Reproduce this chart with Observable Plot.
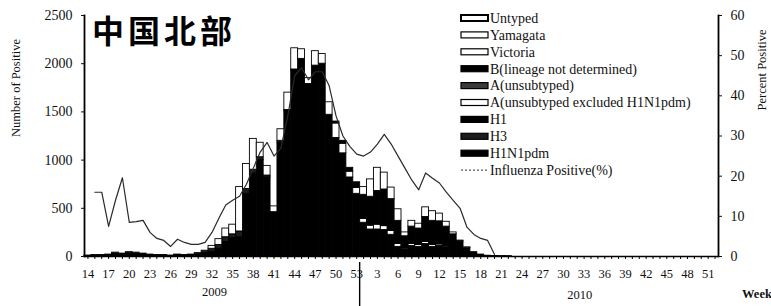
<!DOCTYPE html>
<html><head><meta charset="utf-8">
<script src="https://cdn.jsdelivr.net/npm/d3@7"></script>
<script src="https://cdn.jsdelivr.net/npm/@observablehq/plot@0.6"></script>
<style>
body{margin:0;background:#fff}
#chart{width:771px;height:306px;overflow:hidden}
</style>
</head><body><div id="chart"></div>
<script>
// ---- categories ----
const weeks2009 = d3.range(14, 54);
const weeks2010 = d3.range(1, 53);
const weekKeys = [...weeks2009.map(w => "2009-" + w), ...weeks2010.map(w => "2010-" + w)];
const labelWeeks2009 = [14,17,20,23,26,29,32,35,38,41,44,47,50,53];
const labelWeeks2010 = [3,6,9,12,15,18,21,24,27,30,33,36,39,42,45,48,51];
const leftTicks = [0, 500, 1000, 1500, 2000, 2500];
const rightTicks = [0, 10, 20, 30, 40, 50, 60];

// ---- series values (2009 w14..w53, then 2010 w1..w52) ----
const h1n1pdm = [5,7,7,10,25,20,30,25,20,12,10,10,5,10,10,10,20,35,50,80,150,190,200,650,860,1000,820,450,1180,1510,1930,2050,1790,1980,2000,1470,1230,1070,820,650,
  350,280,280,275,225,100,80,110,100,130,100,110,100,75,55,30,15,8,3,2,1,1,0,0,0,0,0,0,0,0,0,0,0,0,0,0,0,0,0,0,0,0,0,0,0,0,0,0,0,0,0,0];
const h3 = [5,8,8,10,15,10,15,15,10,8,5,5,5,10,5,10,15,25,30,40,50,40,60,50,40,30,20,10,20,10,10,0,0,0,0,0,0,0,0,0,
  0,0,0,0,0,0,0,0,0,0,0,0,0,0,0,0,0,0,0,0,0,0,0,0,0,0,0,0,0,0,0,0,0,0,0,0,0,0,0,0,0,0,0,0,0,0,0,0,0,0,0,0];
const aExcluded = [0,0,0,0,0,0,0,0,0,0,0,0,0,0,0,0,0,0,30,60,90,100,460,260,320,150,100,60,120,180,220,100,60,150,100,130,150,100,60,60,
  40,40,50,40,40,30,10,20,20,20,20,15,10,5,0,0,0,0,0,0,0,0,0,0,0,0,0,0,0,0,0,0,0,0,0,0,0,0,0,0,0,0,0,0,0,0,0,0,0,0,0,0];
const bUndetermined = [0,0,0,0,0,0,0,0,0,0,0,0,0,0,0,0,0,0,0,0,0,0,0,0,0,0,0,0,0,0,0,0,0,0,0,0,20,30,40,60,
  250,300,350,380,330,240,120,180,170,260,250,240,200,150,100,60,30,12,5,3,2,1,0,0,0,0,0,0,0,0,0,0,0,0,0,0,0,0,0,0,0,0,0,0,0,0,0,0,0,0,0,0];
const victoria = [0,0,0,0,0,0,0,0,0,0,0,0,0,0,0,0,0,0,0,0,0,0,0,0,0,0,0,0,0,0,0,0,0,0,0,0,0,0,0,0,
  80,180,240,175,120,120,40,60,50,100,100,80,50,20,10,5,0,0,0,0,0,0,0,0,0,0,0,0,0,0,0,0,0,0,0,0,0,0,0,0,0,0,0,0,0,0,0,0,0,0,0,0];
const percentPositive = [null,16,16,7.5,14,19.6,8.5,8.7,9,6,4.5,4,2.5,4.3,3.5,3,3,3.5,6,9.5,12.8,14,15,18,22,26,28.4,25,27,35,45,47,44,46,46,42.5,35,30,27.4,25.5,
  25,26,28,30.4,28,25,22,19,16.6,20.8,19.5,18.3,16,14,12,7.3,5.5,4.5,4,0.5,null,null,null,null,null,null,null,null,null,null,null,null,null,null,null,null,null,null,null,null,null,null,null,null,null,null,null,null,null,null,null,null];

const stackSeries = ["H1N1pdm", "H3", "A(unsubtyped excluded H1N1pdm)", "B(lineage not determined)", "Victoria"];
const stackValues = [h1n1pdm, h3, aExcluded, bUndetermined, victoria];
const stackFills = ["#000000", "#1c1c1c", "#ffffff", "#000000", "#ffffff"];

const legendNames = ["Untyped","Yamagata","Victoria","B(lineage not determined)","A(unsubtyped)","A(unsubtyped excluded H1N1pdm)","H1","H3","H1N1pdm","Influenza Positive(%)"];
const legendFills = ["#ffffff","#ffffff","#ffffff","#000000","#3a3a3a","#ffffff","#000000","#1c1c1c","#000000",null];

const rows = [];
stackSeries.forEach((s, j) => weekKeys.forEach((k, i) => rows.push({key: k, series: s, value: stackValues[j][i]})));
const pctRows = weekKeys.map((k, i) => ({key: k, pct: percentPositive[i]}));
const toLeft = p => p * 2500 / 60;

const serif = "'Liberation Serif', 'DejaVu Serif', serif";
const plot = Plot.plot({
  width: 771, height: 306,
  marginLeft: 84, marginRight: 53, marginTop: 15, marginBottom: 50,
  style: {fontFamily: serif, fontSize: "13px", color: "#111", background: "#fff"},
  x: {type: "band", domain: weekKeys, padding: 0, axis: null},
  y: {domain: [0, 2500], axis: null},
  color: {domain: stackSeries, range: stackFills},
  marks: [
    Plot.barY(rows, {x: "key", y: "value", fill: "series", stroke: "#000", strokeWidth: 0.9}),
    Plot.line(pctRows, {x: "key", y: d => d.pct == null ? NaN : toLeft(d.pct), stroke: "#2a2a2a", strokeWidth: 1.2, curve: "linear"}),
    Plot.axisX({ticks: weekKeys, tickSize: 3, tickFormat: () => "", stroke: "#000", label: null}),
    Plot.axisX({ticks: [...labelWeeks2009.map(w => "2009-" + w), ...labelWeeks2010.map(w => "2010-" + w)],
      tickSize: 0, tickPadding: 13, tickFormat: k => k.split("-")[1], fontSize: 12.5, label: null}),
    Plot.axisY({ticks: leftTicks, anchor: "left", tickSize: 3, tickPadding: 9, fontSize: 14, label: null, tickFormat: d3.format("d")}),
    Plot.axisY({ticks: rightTicks.map(toLeft), anchor: "right", tickSize: 3, tickPadding: 9, fontSize: 14,
      tickFormat: d => Math.round(d * 60 / 2500), label: null}),
    Plot.ruleY([0], {stroke: "#000", strokeWidth: 1.6}),
    Plot.frame({anchor: "left", stroke: "#000", strokeWidth: 1.8}),
    Plot.frame({anchor: "right", stroke: "#000", strokeWidth: 1.8})
  ]
});
document.getElementById("chart").append(plot);

// ---- decorations: title, legend, axis titles, year labels ----
const svg = d3.select(plot);
const xs = plot.scale("x");
const g = svg.append("g").attr("text-anchor", "start");

g.append("text").attr("x", 92).attr("y", 43).attr("text-anchor", "start")
  .style("font-family", "'Noto Sans CJK SC', sans-serif").style("font-weight", 700)
  .style("font-size", "32px").style("letter-spacing", "4px").attr("fill", "#000").text("中国北部");

g.append("text").attr("transform", "translate(20,88) rotate(-90)").attr("text-anchor", "middle")
  .style("font-family", serif).style("font-size", "12.5px").attr("fill", "#111").text("Number of Positive");
g.append("text").attr("transform", "translate(766,70) rotate(-90)").attr("text-anchor", "middle")
  .style("font-family", serif).style("font-size", "12.5px").attr("fill", "#111").text("Percent Positive");

const sepX = xs.apply("2010-1");
g.append("line").attr("x1", sepX).attr("x2", sepX).attr("y1", 262).attr("y2", 306)
  .attr("stroke", "#000").attr("stroke-width", 1.4);

g.append("text").attr("x", xs.apply("2009-32") + xs.bandwidth / 2 + 3).attr("y", 296).attr("text-anchor", "middle")
  .style("font-family", serif).style("font-size", "12.5px").attr("fill", "#111").text("2009");
g.append("text").attr("x", xs.apply("2010-32") + xs.bandwidth / 2 + 3).attr("y", 299).attr("text-anchor", "middle")
  .style("font-family", serif).style("font-size", "12.5px").attr("fill", "#111").text("2010");
g.append("text").attr("x", 757).attr("y", 298).attr("text-anchor", "middle")
  .style("font-family", serif).style("font-size", "12.5px").style("font-weight", 700).attr("fill", "#111").text("Week");

const lg = g.append("g").attr("transform", "translate(461,18)");
legendNames.forEach((name, i) => {
  const y = i * 16.9;
  if (legendFills[i] == null) {
    lg.append("line").attr("x1", 0).attr("x2", 27).attr("y1", y).attr("y2", y)
      .attr("stroke", "#333").attr("stroke-width", 1).attr("stroke-dasharray", "2,2");
  } else {
    lg.append("rect").attr("x", 0).attr("y", y - 3).attr("width", 27).attr("height", 6)
      .attr("fill", legendFills[i]).attr("stroke", "#000").attr("stroke-width", i === 0 ? 2 : 1.2);
  }
  lg.append("text").attr("x", 29).attr("y", y + 4.8).attr("text-anchor", "start")
    .style("font-family", serif).style("font-size", "14px").attr("fill", "#111").text(name);
});
</script>
</body></html>
